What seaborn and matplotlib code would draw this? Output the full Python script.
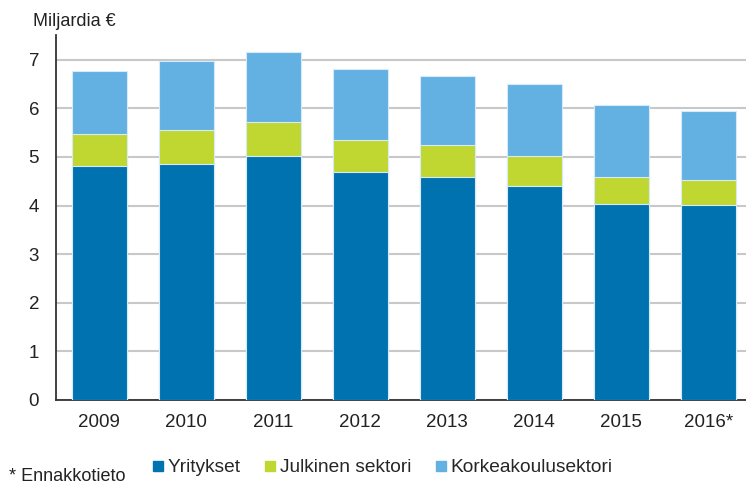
import matplotlib
matplotlib.use("Agg")
import matplotlib.pyplot as plt
from matplotlib.lines import Line2D
import pandas as pd
import seaborn as sns

years = ["2009", "2010", "2011", "2012", "2013", "2014", "2015", "2016*"]
yritykset = [4.82, 4.86, 5.01, 4.69, 4.59, 4.40, 4.03, 4.01]
julkinen = [0.66, 0.69, 0.70, 0.66, 0.66, 0.62, 0.56, 0.52]
korkeakoulu = [1.28, 1.42, 1.45, 1.47, 1.42, 1.48, 1.48, 1.41]

names = ["Yritykset", "Julkinen sektori", "Korkeakoulusektori"]
colors = ["#0072B0", "#BFD730", "#63B0E3"]

df = pd.DataFrame({"Yritykset": yritykset, "Julkinen sektori": julkinen,
                   "Korkeakoulusektori": korkeakoulu})
cum = df[names].cumsum(axis=1)
cum["vuosi"] = years

sns.set_style("white")
plt.rcParams["font.family"] = ["Liberation Sans", "DejaVu Sans"]

fig = plt.figure(figsize=(7.46, 4.86), dpi=100)
ax = fig.add_axes([0.0747, 0.177, 0.925, 0.75])

# tallest stack first, lower segments drawn over it
for name, col in zip(names[::-1], colors[::-1]):
    sns.barplot(data=cum, x="vuosi", y=name, color=col, saturation=1,
                width=0.63, edgecolor="#D6EAF8", linewidth=0.8, ax=ax, zorder=3)

ax.set_ylim(0, 7.5)
ax.set_xlim(-0.5, 7.43)
ax.set_yticks(range(0, 8))
ax.yaxis.grid(True, color="#C8C8C8", linewidth=1.5, zorder=0)
ax.set_axisbelow(True)
ax.set_xlabel("")
ax.set_ylabel("")
for s in ["top", "right"]:
    ax.spines[s].set_visible(False)
for s in ["left", "bottom"]:
    ax.spines[s].set_color("#333333")
    ax.spines[s].set_linewidth(1.3)
ax.tick_params(axis="both", length=0, labelsize=13.5, colors="#222222")
ax.tick_params(axis="y", pad=12)
ax.tick_params(axis="x", pad=10)

fig.text(0.044, 0.955, "Miljardia €", fontsize=13, color="#222222", va="center")

handles = [Line2D([], [], marker="s", linestyle="", color=c, markersize=7.5) for c in colors]
fig.legend(handles, names, loc="center", bbox_to_anchor=(0.513, 0.038), ncol=3,
           frameon=False, fontsize=13.8, handlelength=0.5, handletextpad=0.25,
           columnspacing=1.3)
fig.text(0.012, 0.003, "* Ennakkotieto", fontsize=13, color="#222222", va="bottom")

fig.savefig("out.png", dpi=100)
